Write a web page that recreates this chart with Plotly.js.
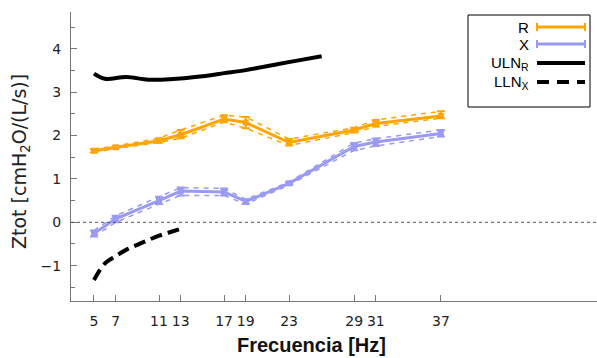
<!DOCTYPE html>
<html><head><meta charset="utf-8">
<script src="https://cdn.plot.ly/plotly-3.0.1.min.js"></script>
<style>html,body{margin:0;padding:0;background:#fff}#c{width:597px;height:358px}</style>
</head><body><div id="c"></div>
<script>
const freq = [5, 7, 11, 13, 17, 19, 23, 29, 31, 37];
const R    = [1.65, 1.73, 1.88, 2.02, 2.38, 2.30, 1.84, 2.13, 2.28, 2.45];
const R_up = [1.69, 1.76, 1.94, 2.13, 2.47, 2.43, 1.92, 2.18, 2.36, 2.56];
const R_lo = [1.61, 1.70, 1.84, 1.94, 2.31, 2.17, 1.77, 2.07, 2.21, 2.40];
const X    = [-0.26, 0.08, 0.50, 0.72, 0.70, 0.48, 0.90, 1.75, 1.85, 2.05];
const X_up = [-0.19, 0.15, 0.59, 0.80, 0.78, 0.53, 0.93, 1.83, 1.93, 2.13];
const X_lo = [-0.33, 0.00, 0.42, 0.62, 0.62, 0.42, 0.86, 1.66, 1.76, 1.98];
const ULN_f = [5, 6, 8, 10, 12, 15, 17, 19, 22, 24, 26];
const ULN_R = [3.43, 3.31, 3.35, 3.29, 3.30, 3.37, 3.44, 3.51, 3.65, 3.74, 3.83];
const LLN_f = [5, 6, 7, 8, 9, 10, 11, 12, 13];
const LLN_X = [-1.33, -0.95, -0.78, -0.63, -0.52, -0.41, -0.31, -0.23, -0.15];
const xTicks = [5, 7, 11, 13, 17, 19, 23, 29, 31, 37];
const yTicks = [-1, 0, 1, 2, 3, 4];
const legendLabels = ['R', 'X', 'ULN<sub>R</sub>', 'LLN<sub>X</sub>'];

const ORANGE = '#ffa500', BLUE = '#9a9af2';
const W = 597, H = 358, L = 71, T = 12, B = 57, RM = 0;
const px = x => (x - L) / (W - L - RM);
const py = y => (H - B - y) / (H - B - T);

function main(vals, up, lo, color) {
  return {x: freq, y: vals, mode: 'lines+markers', type: 'scatter',
    line: {color: color, width: 3}, marker: {color: color, size: 6, symbol: 'square'},
    error_y: {type: 'data', symmetric: false,
      array: up.map((u, i) => u - vals[i]), arrayminus: lo.map((l, i) => vals[i] - l),
      color: color, thickness: 2, width: 4},
    showlegend: false, hoverinfo: 'skip'};
}
function dashed(vals, color) {
  return {x: freq, y: vals, mode: 'lines', type: 'scatter',
    line: {color: color, width: 1.5, dash: '5px,5px'}, showlegend: false, hoverinfo: 'skip'};
}
const traces = [
  dashed(R_up, ORANGE), dashed(R_lo, ORANGE), main(R, R_up, R_lo, ORANGE),
  dashed(X_up, BLUE), dashed(X_lo, BLUE), main(X, X_up, X_lo, BLUE),
  {x: ULN_f, y: ULN_R, mode: 'lines', line: {color: '#000', width: 4, shape: 'spline'}, showlegend: false, hoverinfo: 'skip'},
  {x: LLN_f, y: LLN_X, mode: 'lines', line: {color: '#000', width: 4, dash: '12px,6px', shape: 'spline'}, showlegend: false, hoverinfo: 'skip'}
];

const shapes = [
  {type: 'line', xref: 'paper', x0: 0, x1: 1, yref: 'y', y0: 0, y1: 0, line: {color: '#555', width: 1, dash: 'dot'}},
  {type: 'rect', xref: 'paper', yref: 'paper', x0: px(468), x1: px(590), y0: py(107), y1: py(15), line: {color: '#000', width: 1}, fillcolor: '#fff'}
];
const annotations = [];
const rows = [27, 44, 63, 82];
const lcol = [ORANGE, BLUE, '#000', '#000'];
rows.forEach((ry, i) => {
  annotations.push({xref: 'paper', yref: 'paper', x: px(531), y: py(ry), xanchor: 'right', yanchor: 'middle',
    text: legendLabels[i], showarrow: false, font: {family: 'Liberation Sans, Arial', size: 15, color: '#000'}});
  const ln = {color: lcol[i], width: i < 2 ? 3 : 4};
  if (i === 3) ln.dash = '12px,8px';
  shapes.push({type: 'line', xref: 'paper', yref: 'paper', x0: px(537), x1: px(585), y0: py(ry), y1: py(ry), line: ln});
  if (i < 2) {
    [537, 585].forEach(cx => shapes.push({type: 'line', xref: 'paper', yref: 'paper', x0: px(cx), x1: px(cx), y0: py(ry - 4), y1: py(ry + 4), line: {color: lcol[i], width: 2}}));
  }
});
annotations.push({xref: 'paper', yref: 'paper', x: px(20), y: py(162), xanchor: 'center', yanchor: 'middle', textangle: -90,
  text: 'Ztot [cmH<sub>2</sub>O/(L/s)]', showarrow: false, font: {family: 'DejaVu Sans', size: 19, color: '#222'}});
annotations.push({xref: 'paper', yref: 'paper', x: px(311), y: py(345), xanchor: 'center', yanchor: 'middle',
  text: '<b>Frecuencia [Hz]</b>', showarrow: false, font: {family: 'Liberation Sans, Arial', size: 20, color: '#111'}});

const layout = {
  width: W, height: H, margin: {l: L, r: RM, t: T, b: B},
  paper_bgcolor: '#fff', plot_bgcolor: '#fff',
  xaxis: {range: [2.88, 51.4], tickvals: xTicks, ticktext: xTicks.map(String), ticks: 'inside', ticklen: 6,
    tickcolor: '#777', showline: true, linecolor: '#777', linewidth: 1, showgrid: false, zeroline: false,
    tickfont: {family: 'DejaVu Sans', size: 14, color: '#222'}, ticklabelstandoff: 7},
  yaxis: {range: [-1.815, 4.85], tickvals: yTicks, ticks: 'inside', ticklen: 6, tickcolor: '#777',
    showline: true, linecolor: '#777', linewidth: 1, showgrid: false, zeroline: false,
    minor: {dtick: 0.5, ticks: 'inside', ticklen: 4, tickcolor: '#777'},
    tickfont: {family: 'DejaVu Sans', size: 14, color: '#222'}, ticklabelstandoff: 6},
  shapes: shapes, annotations: annotations, showlegend: false
};
Plotly.newPlot('c', traces, layout, {staticPlot: true});
</script></body></html>
